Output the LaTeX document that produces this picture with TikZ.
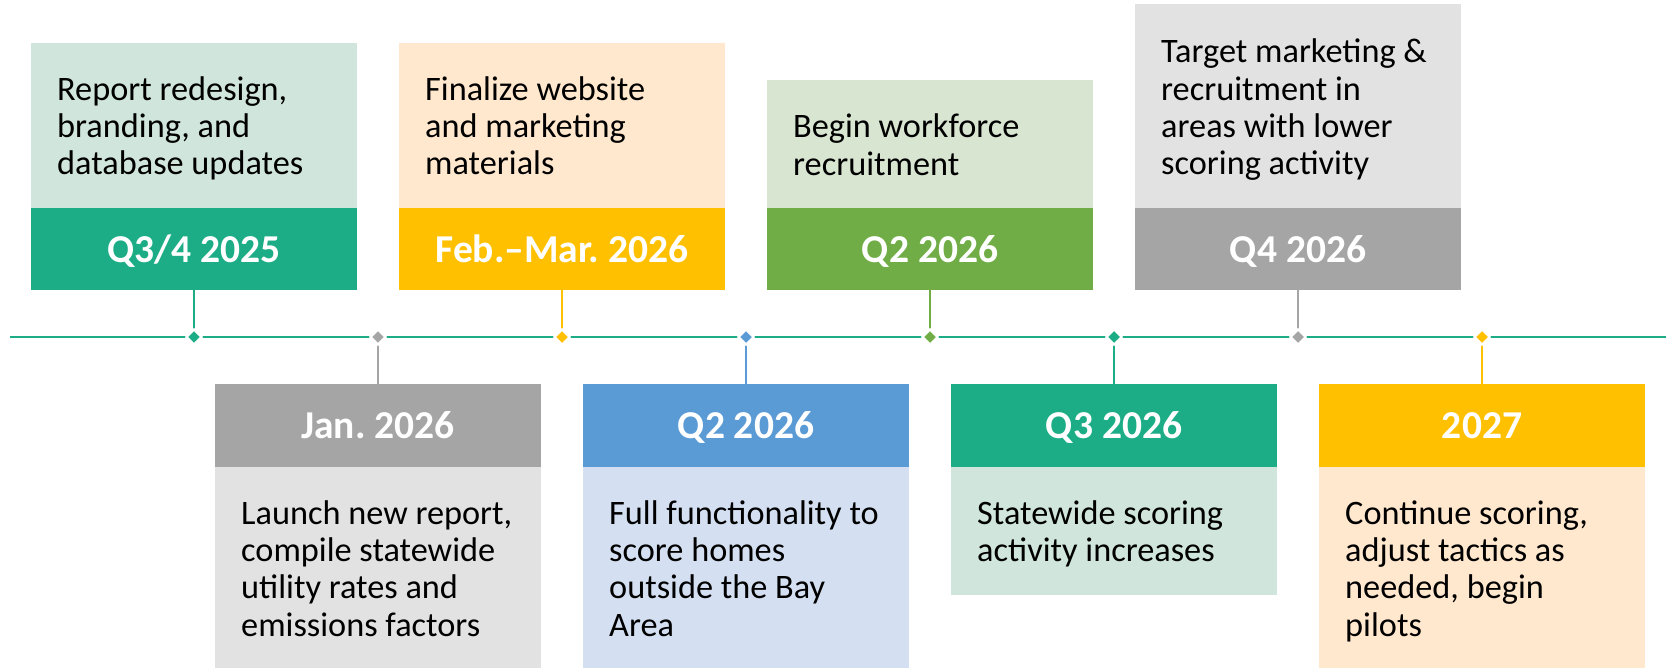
\documentclass[tikz,border=0pt]{standalone}
\usepackage{fontspec}
\setmainfont{Carlito}
\usetikzlibrary{shapes.geometric}
\frenchspacing
\definecolor{tealD}{HTML}{1CAD86}
\definecolor{tealL}{HTML}{D0E6DD}
\definecolor{grayD}{HTML}{A5A5A5}
\definecolor{grayL}{HTML}{E2E2E2}
\definecolor{yelD}{HTML}{FFC000}
\definecolor{yelL}{HTML}{FFE8CE}
\definecolor{bluD}{HTML}{5B9BD5}
\definecolor{bluL}{HTML}{D4E0F1}
\definecolor{grnD}{HTML}{70AD47}
\definecolor{grnL}{HTML}{D8E5D1}
\tikzset{
  boxshape/.style={rectangle, inner sep=0pt, outer sep=0pt, minimum width=326pt},
  toplight/.style={boxshape, anchor=north},
  hdrbox/.style={boxshape, anchor=north, minimum height=82pt},
  hdr/.style={anchor=base, inner sep=0pt, text=white, font=\fontsize{39.5}{44}\selectfont\bfseries},
  body/.style={anchor=north west, inner sep=0pt, align=left, text=black, font=\fontsize{34.3}{37.3}\selectfont},
  dia/.style={diamond, aspect=1, inner sep=0pt, minimum width=16pt, minimum height=16pt, draw=white, line width=2.2pt},
  conn/.style={line width=2pt},
  tline/.style={line width=2.6pt, draw=tealD}
}
\newcommand{\fr}{\rule{0pt}{30pt}}
\begin{document}
\begin{tikzpicture}[x=1pt,y=-1pt]
\useasboundingbox (0,0) rectangle (1669,669);
% ---- top boxes
\node[toplight, fill=tealL, minimum height=165pt] (l1) at (194,43) {};
\node[hdrbox, fill=tealD] (h1) at (194,208) {};
\node[hdr] (t1) at (194,262) {Q3/4 2025};
\node[body] (x1) at (57,70) {\fr Report redesign,\\branding, and\\database updates};

\node[toplight, fill=yelL, minimum height=165pt] (l3) at (562,43) {};
\node[hdrbox, fill=yelD] (h3) at (562,208) {};
\node[hdr] (t3) at (562,262) {Feb.\textendash Mar. 2026};
\node[body] (x3) at (425,70) {\fr Finalize website\\and marketing\\materials};

\node[toplight, fill=grnL, minimum height=128pt] (l5) at (930,80) {};
\node[hdrbox, fill=grnD] (h5) at (930,208) {};
\node[hdr] (t5) at (930,262) {Q2 2026};
\node[body] (x5) at (793,107.5) {\fr Begin workforce\\recruitment};

\node[toplight, fill=grayL, minimum height=204pt] (l7) at (1298,4) {};
\node[hdrbox, fill=grayD] (h7) at (1298,208) {};
\node[hdr] (t7) at (1298,262) {Q4 2026};
\node[body] (x7) at (1161,32.5) {\fr Target marketing \&\\recruitment in\\areas with lower\\scoring activity};

% ---- bottom boxes
\node[hdrbox, fill=grayD, minimum height=83pt] (h2) at (378,384) {};
\node[toplight, fill=grayL, minimum height=201pt] (l2) at (378,467) {};
\node[hdr] (t2) at (378,438) {Jan. 2026};
\node[body] (x2) at (241,494) {\fr Launch new report,\\compile statewide\\utility rates and\\emissions factors};

\node[hdrbox, fill=bluD, minimum height=83pt] (h4) at (746,384) {};
\node[toplight, fill=bluL, minimum height=201pt] (l4) at (746,467) {};
\node[hdr] (t4) at (746,438) {Q2 2026};
\node[body] (x4) at (609,494) {\fr Full functionality to\\score homes\\outside the Bay\\Area};

\node[hdrbox, fill=tealD, minimum height=83pt] (h6) at (1114,384) {};
\node[toplight, fill=tealL, minimum height=128pt] (l6) at (1114,467) {};
\node[hdr] (t6) at (1114,438) {Q3 2026};
\node[body] (x6) at (977,494) {\fr Statewide scoring\\activity increases};

\node[hdrbox, fill=yelD, minimum height=83pt] (h8) at (1482,384) {};
\node[toplight, fill=yelL, minimum height=201pt] (l8) at (1482,467) {};
\node[hdr] (t8) at (1482,438) {2027};
\node[body] (x8) at (1345,494) {\fr Continue scoring,\\adjust tactics as\\needed, begin\\pilots};

% ---- timeline
\coordinate (ts) at (10,337);
\coordinate (te) at (1666,337);
\draw[tline] (ts) -- (te);
\coordinate (c1) at (194,337);
\coordinate (c2) at (378,337);
\coordinate (c3) at (562,337);
\coordinate (c4) at (746,337);
\coordinate (c5) at (930,337);
\coordinate (c6) at (1114,337);
\coordinate (c7) at (1298,337);
\coordinate (c8) at (1482,337);
\draw[conn, tealD] (h1.south) -- (c1);
\draw[conn, grayD] (c2) -- (h2.north);
\draw[conn, yelD] (h3.south) -- (c3);
\draw[conn, bluD] (c4) -- (h4.north);
\draw[conn, grnD] (h5.south) -- (c5);
\draw[conn, tealD] (c6) -- (h6.north);
\draw[conn, grayD] (h7.south) -- (c7);
\draw[conn, yelD] (c8) -- (h8.north);
\node[dia, fill=tealD] (d1) at (c1) {};
\node[dia, fill=grayD] (d2) at (c2) {};
\node[dia, fill=yelD] (d3) at (c3) {};
\node[dia, fill=bluD] (d4) at (c4) {};
\node[dia, fill=grnD] (d5) at (c5) {};
\node[dia, fill=tealD] (d6) at (c6) {};
\node[dia, fill=grayD] (d7) at (c7) {};
\node[dia, fill=yelD] (d8) at (c8) {};
\end{tikzpicture}
\end{document}
